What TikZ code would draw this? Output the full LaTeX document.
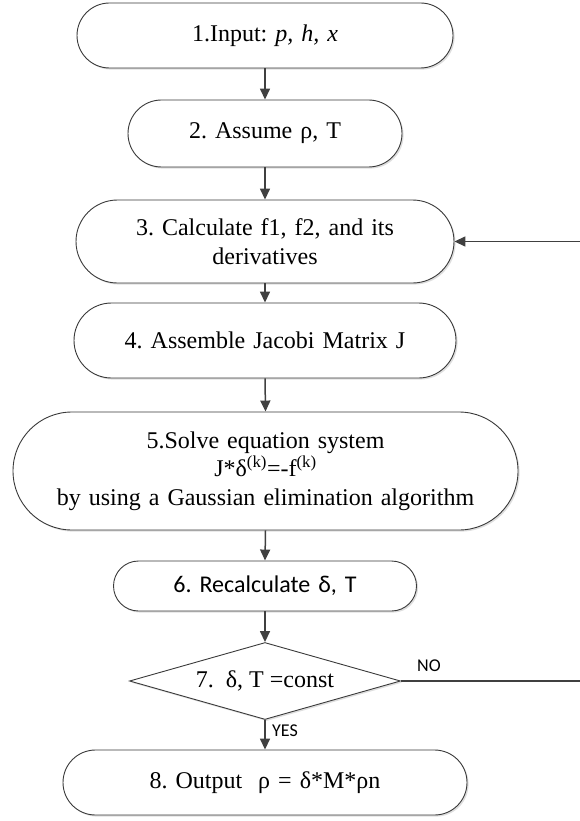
\documentclass[tikz,border=0pt]{standalone}
\usepackage{fontspec}
\setmainfont{Liberation Serif}
\newfontfamily\carlito{Carlito}
\usetikzlibrary{arrows.meta,shapes.geometric,shadows}
\definecolor{ink}{HTML}{404040}
\definecolor{edge}{HTML}{3A3A3A}
\frenchspacing
\begin{document}
\begin{tikzpicture}[x=1pt,y=-1pt,
  font=\fontsize{24}{28.5}\selectfont,
  softshadow/.style={drop shadow={shadow xshift=1.6pt,shadow yshift=-1.6pt,fill=black,opacity=0.13}},
  pill/.style n args={3}{rectangle,draw=edge,line width=0.9pt,fill=white,softshadow,
    minimum width=#1,minimum height=#2,rounded corners=#3,text width=#1,
    align=center,inner sep=0pt},
  decision/.style={diamond,draw=edge,line width=0.9pt,fill=white,softshadow,aspect=3.5,
    minimum width=271pt,minimum height=77pt,inner sep=0pt},
  flow/.style={draw=ink,line width=1.5pt,-{Triangle[length=11pt,width=10pt]}},
  wire/.style={draw=ink,line width=1.5pt},
  tag/.style={font=\carlito\fontsize{18}{20}\selectfont,inner sep=0pt}]

\useasboundingbox (0,0) rectangle (580,821);

% process steps
\node[pill={376pt}{65pt}{32.5pt}] (b1) at (265,35.5) {1.Input: \textit{p, h, x}};
\node[pill={274pt}{67pt}{33.5pt}] (b2) at (265,133.5) {2. Assume ρ, T};
\node[pill={378pt}{83pt}{41.5pt}] (b3) at (265,241.5) {3. Calculate f1, f2, and its\\derivatives};
\node[pill={382pt}{75pt}{37.5pt}] (b4) at (265,340.5) {4. Assemble Jacobi Matrix J};
\node[pill={505pt}{118pt}{59pt}] (b5) at (265.5,471)
  {5.Solve equation system\\J*δ\textsuperscript{(k)}=-f\textsuperscript{(k)}\\by using a Gaussian elimination algorithm};
\node[pill={303pt}{50pt}{25pt},font=\carlito\fontsize{24}{28}\selectfont] (b6) at (265,586) {6. Recalculate δ, T};
\node[decision] (d7) at (265,681) {7.\ \ δ, T =const};
\node[pill={404pt}{65pt}{32.5pt}] (b8) at (265,782.5) {8. Output\ \ ρ = δ*M*ρn};

% loop ends at the right margin
\coordinate (noEnd) at (580,681);
\coordinate (loopIn) at (580,241.5);

% connectors
\draw[flow] (b1.south) -- (b2.north);
\draw[flow] (b2.south) -- (b3.north);
\draw[flow] (b3.south) -- (b4.north);
\draw[flow] (b4.south) -- (b5.north);
\draw[flow] (b5.south) -- (b6.north);
\draw[flow] (b6.south) -- (d7.north);
\draw[flow] (d7.south) -- (b8.north);
\draw[wire] (d7.east) -- (noEnd);
\draw[flow] (loopIn) -- (b3.east);

% branch labels
\node[tag] (no) at (429,666) {NO};
\node[tag,anchor=west] (yes) at (272,731) {YES};
\end{tikzpicture}
\end{document}
